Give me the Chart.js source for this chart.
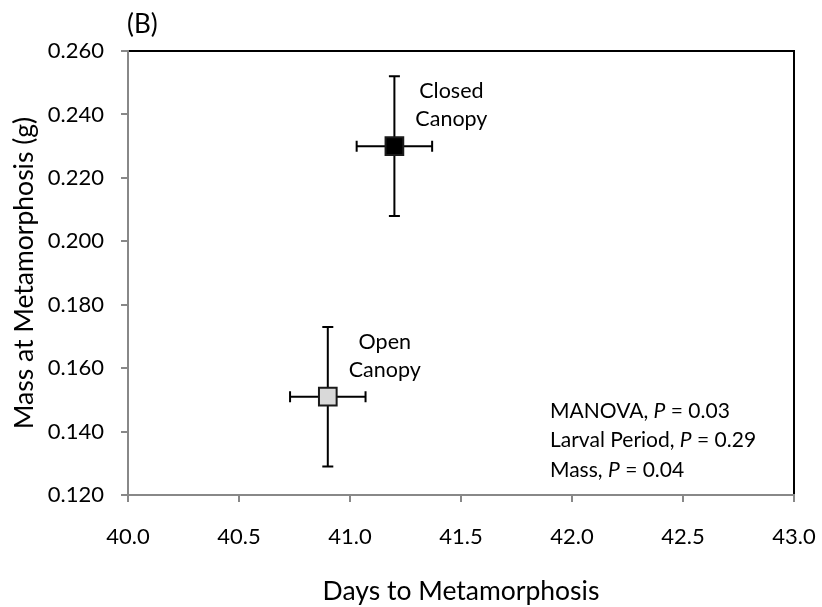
<!DOCTYPE html>
<html>
<head>
<meta charset="utf-8">
<script src="https://cdn.jsdelivr.net/npm/chart.js"></script>
<style>
  html, body { margin: 0; padding: 0; background: #fff; }
  #wrap { width: 822px; height: 607px; }
</style>
</head>
<body>
<div id="wrap"><canvas id="metaChart" width="822" height="607"></canvas></div>
<script>
// treatment means with +/- error, days on x and mass on y
const groups = ["Closed Canopy", "Open Canopy"];
const groupLines = [["Closed", "Canopy"], ["Open", "Canopy"]];
const days = [41.2, 40.9];
const mass = [0.230, 0.151];
const daysErr = [0.17, 0.17];
const massErr = [0.022, 0.022];
const fills = ["#000000", "#d9d9d9"];

const xMin = 40.0, xMax = 43.0, xStep = 0.5;
const yMin = 0.120, yMax = 0.260, yStep = 0.020;

const statLines = [
  ["MANOVA, ", "0.03"],
  ["Larval Period, ", "0.29"],
  ["Mass, ", "0.04"]
];

const FONT = "Lato, 'Open Sans', sans-serif";

// whiskers in both directions, drawn under the markers
const errorBars = {
  id: "errorBars",
  beforeDatasetsDraw(chart) {
    const { ctx, scales: { x, y } } = chart;
    ctx.save();
    ctx.strokeStyle = "#000";
    ctx.lineWidth = 2;
    const cap = 5.5;
    days.forEach((d, i) => {
      const px = x.getPixelForValue(d);
      const py = y.getPixelForValue(mass[i]);
      const x0 = x.getPixelForValue(d - daysErr[i]);
      const x1 = x.getPixelForValue(d + daysErr[i]);
      const y0 = y.getPixelForValue(mass[i] - massErr[i]);
      const y1 = y.getPixelForValue(mass[i] + massErr[i]);
      ctx.beginPath();
      ctx.moveTo(x0, py); ctx.lineTo(x1, py);
      ctx.moveTo(x0, py - cap); ctx.lineTo(x0, py + cap);
      ctx.moveTo(x1, py - cap); ctx.lineTo(x1, py + cap);
      ctx.moveTo(px, y0); ctx.lineTo(px, y1);
      ctx.moveTo(px - cap, y0); ctx.lineTo(px + cap, y0);
      ctx.moveTo(px - cap, y1); ctx.lineTo(px + cap, y1);
      ctx.stroke();
    });
    ctx.restore();
  }
};

// frame, panel letter, point labels and the test results
const extras = {
  id: "extras",
  beforeDraw(chart) {
    const { ctx, chartArea: a } = chart;
    ctx.save();
    ctx.strokeStyle = "#000";
    ctx.lineWidth = 2;
    ctx.beginPath();
    ctx.moveTo(a.left, a.top);
    ctx.lineTo(a.right, a.top);
    ctx.lineTo(a.right, a.bottom);
    ctx.stroke();
    ctx.restore();
  },
  afterDraw(chart) {
    const { ctx, chartArea: a, scales: { x, y } } = chart;
    ctx.save();
    ctx.fillStyle = "#000";
    ctx.textBaseline = "middle";

    ctx.font = "26px " + FONT;
    ctx.textAlign = "left";
    ctx.fillText("(B)", a.left - 1, 25);

    ctx.font = "21.5px " + FONT;
    ctx.textAlign = "center";
    groupLines.forEach((lines, i) => {
      const px = x.getPixelForValue(days[i]) + 57;
      const py = y.getPixelForValue(mass[i]);
      ctx.fillText(lines[0], px, py - 55);
      ctx.fillText(lines[1], px, py - 27);
    });

    ctx.textAlign = "left";
    statLines.forEach((parts, i) => {
      let tx = 550;
      const ty = 411 + i * 29.5;
      ctx.font = "21px " + FONT;
      ctx.fillText(parts[0], tx, ty);
      tx += ctx.measureText(parts[0]).width;
      ctx.font = "italic 21px " + FONT;
      ctx.fillText("P", tx, ty);
      tx += ctx.measureText("P").width;
      ctx.font = "21px " + FONT;
      ctx.fillText(" = " + parts[1], tx, ty);
    });
    ctx.restore();
  }
};

new Chart(document.getElementById("metaChart"), {
  type: "scatter",
  data: {
    datasets: groups.map((g, i) => ({
      label: g,
      data: [{ x: days[i], y: mass[i] }],
      pointStyle: "rect",
      pointRadius: 12.5,
      pointHoverRadius: 12.5,
      backgroundColor: fills[i],
      borderColor: "#1a1a1a",
      borderWidth: 2
    }))
  },
  options: {
    responsive: false,
    animation: false,
    layout: { padding: { left: 0, right: 28, top: 51, bottom: 0 } },
    plugins: {
      legend: { display: false },
      tooltip: { enabled: false }
    },
    scales: {
      x: {
        type: "linear",
        min: xMin,
        max: xMax,
        afterFit(scale) {
          scale.height = 607 - 495;
          scale.paddingLeft = 0;
          scale.paddingRight = 0;
        },
        ticks: {
          stepSize: xStep,
          color: "#000",
          padding: 22,
          font: { family: FONT, size: 22 },
          callback: v => v.toFixed(1)
        },
        grid: { drawOnChartArea: false, drawTicks: true, tickLength: 7, color: "#888", lineWidth: 2 },
        border: { color: "#888", width: 2 },
        title: {
          display: true,
          text: "Days to Metamorphosis",
          color: "#000",
          font: { family: FONT, size: 26.5 },
          padding: { top: 5, bottom: 0 }
        }
      },
      y: {
        type: "linear",
        min: yMin,
        max: yMax,
        afterFit(scale) {
          scale.width = 128;
          scale.paddingTop = 0;
          scale.paddingBottom = 0;
        },
        ticks: {
          stepSize: yStep,
          color: "#000",
          padding: 17,
          font: { family: FONT, size: 22 },
          callback: v => v.toFixed(3)
        },
        grid: { drawOnChartArea: false, drawTicks: true, tickLength: 7, color: "#888", lineWidth: 2 },
        border: { color: "#888", width: 2 },
        title: {
          display: true,
          text: "Mass at Metamorphosis (g)",
          color: "#000",
          font: { family: FONT, size: 26.5 },
          padding: { top: 9, bottom: 0 }
        }
      }
    }
  },
  plugins: [errorBars, extras]
});
</script>
</body>
</html>
